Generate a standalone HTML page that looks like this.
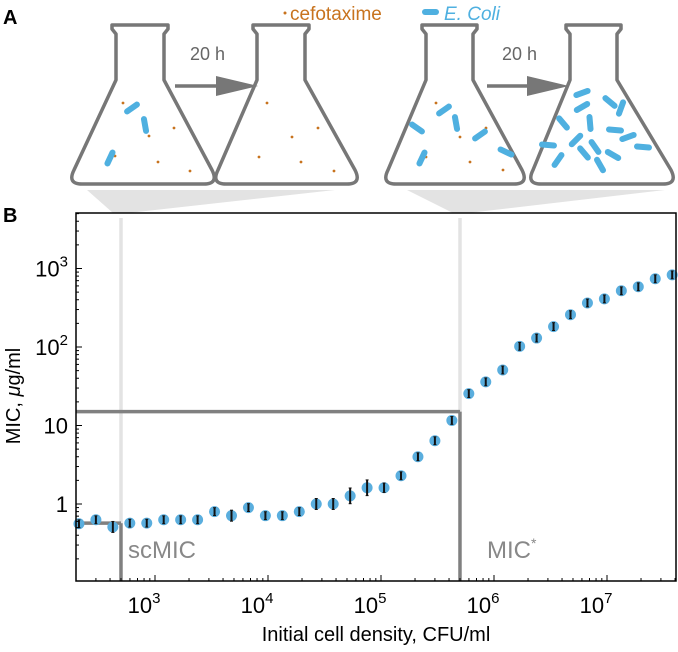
<!DOCTYPE html>
<html><head><meta charset="utf-8"><style>
body{margin:0;background:#fff}
svg text{font-family:"Liberation Sans",sans-serif}
</style></head><body>
<svg id="fig" width="678" height="647" viewBox="0 0 678 647" xmlns="http://www.w3.org/2000/svg">
<text x="3" y="24" font-size="20" font-weight="bold">A</text>
<text x="3" y="222" font-size="20" font-weight="bold">B</text>
<polygon points="87,190 335,190 128,213 113,213" fill="#e3e3e3"/>
<polygon points="407,190 665,190 468,213 453,213" fill="#e3e3e3"/>
<g id="flasks" fill="#fff" stroke="#777" stroke-width="3.5" stroke-linejoin="round"></g>
<g id="arrows"></g>
<g>
<circle cx="285" cy="13" r="1.5" fill="#c8731e"/>
<text x="290" y="20" font-size="19" fill="#c8731e">cefotaxime</text>
<line x1="425" y1="12" x2="436" y2="12" stroke="#4fb0e0" stroke-width="6" stroke-linecap="round"/>
<text x="444" y="20" font-size="19" font-style="italic" fill="#4fb0e0">E. Coli</text>
</g>
<g id="plot"></g>
</svg>
<script>
const logX = [2.327,2.477,2.627,2.777,2.927,3.077,3.227,3.377,3.527,3.677,3.827,3.977,4.127,4.277,4.427,4.577,4.727,4.877,5.027,5.177,5.327,5.477,5.627,5.777,5.927,6.077,6.227,6.377,6.527,6.677,6.827,6.977,7.127,7.277,7.427,7.577];
const micValues = [0.56,0.63,0.51,0.57,0.57,0.63,0.63,0.63,0.80,0.71,0.90,0.71,0.71,0.80,1.0,1.0,1.27,1.61,1.61,2.29,4.0,6.4,11.6,25.5,36,51,102,130,182,258,364,410,520,585,740,830];
const errLog = [0.05,0.05,0.07,0.05,0.05,0.05,0.05,0.05,0.05,0.07,0.05,0.05,0.05,0.05,0.07,0.07,0.1,0.1,0.06,0.05,0.05,0.05,0.05,0.05,0.05,0.05,0.05,0.05,0.05,0.05,0.05,0.05,0.05,0.05,0.05,0.05];
const xTickExp = [3,4,5,6,7];
const yTickVals = [1,10,100,1000];
const yTickBase = ["1","10","10","10"];
const yTickSup = ["","","2","3"];
const scMIC = {x:500, y:0.57};
const micStar = {x:5e5, y:15};

const NS="http://www.w3.org/2000/svg";
function mk(tag,attrs,parent){const e=document.createElementNS(NS,tag);for(const k in attrs)e.setAttribute(k,attrs[k]);parent.appendChild(e);return e;}
const L=76,R=676,T=213,B=581;
const X=lx=>155+(lx-3)*113;
const Y=v=>504-Math.log10(v)*78.5;
const plot=document.getElementById('plot');

const flasks=document.getElementById('flasks');
[[70,216,113,167],[214,359,254,308],[384,526,423,476],[529,675,567,620]].forEach((f,i)=>{
 const [x0,x1,n0,n1]=f;
 const d=`M${n0-1},25 L${n1+1},25 L${n1+1},29 L${n1-3},34 L${n1-3},80 L${x1-4},170 Q${x1+3},184 ${x1-12},184 L${x0+12},184 Q${x0-3},184 ${x0+4},170 L${n0+3},80 L${n0+3},34 L${n0-1},29 Z`;
 const p=mk('path',{d:d},flasks);
 
 
});
const dots=[[123,103],[174,128],[149,136],[115,156],[158,162],[190,171],[267,103],[318,128],[292,137],[259,157],[301,162],[334,171],[436,103],[486,128],[460,137],[426,157],[470,162],[503,170]];
dots.forEach(d=>{const c=mk('circle',{cx:d[0],cy:d[1],r:1.4,fill:'#c8731e'},flasks.parentNode);
 
 });
const bac=[[132,108,-35],[145,125,80],[110,158,-65],[444,110,-35],[456,123,80],[417,128,35],[480,135,-35],[506,152,25],[422,158,-65],
[582,93,-20],[610,102,40],[621,108,-70],[582,107,-30],[563,123,50],[590,123,85],[615,130,5],[576,140,-45],[595,147,55],[548,145,5],[628,137,-20],[643,147,5],[613,155,30],[584,153,50],[558,160,-55],[600,165,60]];
bac.forEach(b=>{const a=b[2]*Math.PI/180,dx=6*Math.cos(a),dy=6*Math.sin(a);
 const l=mk('line',{x1:b[0]-dx,y1:b[1]-dy,x2:b[0]+dx,y2:b[1]+dy,stroke:'#4fb0e0','stroke-width':6,'stroke-linecap':'round'},flasks.parentNode);
 
 });
const arrows=document.getElementById('arrows');
[[175,258,190],[487,569,502]].forEach((a,i)=>{
 const g=mk('g',{},arrows);
 
 
 mk('line',{x1:a[0],y1:86,x2:a[1]-38,y2:86,stroke:'#777','stroke-width':3.5},g);
 mk('polygon',{points:`${a[1]-42},76 ${a[1]},86 ${a[1]-42},96`,fill:'#777'},g);
 const t=mk('text',{x:a[2],y:60,'font-size':18,fill:'#666'},g);t.textContent='20 h';
});

function line(x1,y1,x2,y2,c,w,name){const l=mk('line',{x1,y1,x2,y2,stroke:c,'stroke-width':w},plot);
 
 }
const sx=X(Math.log10(scMIC.x)), sy=Y(scMIC.y), mx=X(Math.log10(micStar.x)), my=Y(micStar.y);
line(sx,T+5,sx,sy,'#e3e3e3',3.5,'scmic-guide');
line(mx,T+5,mx,my,'#e3e3e3',3.5,'mic-star-guide');
line(L,sy,sx,sy,'#808080',3.5,'scmic-horizontal');
line(sx,sy,sx,B,'#808080',3.5,'scmic-vertical');
line(L,my,mx,my,'#808080',3.5,'mic-star-horizontal');
line(mx,my,mx,B,'#808080',3.5,'mic-star-vertical');
let t=mk('text',{x:128,y:558,'font-size':24,fill:'#888'},plot);t.textContent='scMIC';


t=mk('text',{x:487,y:558,'font-size':24,fill:'#888'},plot);t.textContent='MIC';


const ts=mk('tspan',{'font-size':14,dy:-10},t);ts.textContent='*';

micValues.forEach((v,i)=>{
 const cx=X(logX[i]),cy=Y(v);
 if(cx>R+2)return;
 const g=mk('g',{},plot);
 
 
 mk('circle',{cx,cy,r:5.5,fill:'#5aaede'},g);
 const e=errLog[i]*78.5;
 mk('line',{x1:cx,y1:cy-e,x2:cx,y2:cy+e,stroke:'#111','stroke-width':2},g);
 mk('line',{x1:cx-1.5,y1:cy-e,x2:cx+1.5,y2:cy-e,stroke:'#111','stroke-width':1},g);
 mk('line',{x1:cx-1.5,y1:cy+e,x2:cx+1.5,y2:cy+e,stroke:'#111','stroke-width':1},g);
});

const fr=mk('rect',{x:L,y:T,width:R-L,height:B-T,fill:'none',stroke:'#000','stroke-width':1.5},plot);


for(let d=2;d<=7;d++)for(let m=1;m<10;m++){
 const lx=d+Math.log10(m);const x=X(lx);if(x<L||x>R)continue;
 line(x,B,x,B-(m===1?6:3),'#000',1,'x-tick');
}
xTickExp.forEach(e=>{const x=X(e);
 const tx=mk('text',{x:x-11,y:613,'font-size':22,'text-anchor':'middle'},plot);tx.textContent='10';
 const s=mk('tspan',{'font-size':15,dy:-10},tx);s.textContent=e;
 
 });
for(let d=-1;d<=3;d++)for(let m=1;m<10;m++){
 const v=Math.pow(10,d)*m;const y=Y(v);if(y<T||y>B)continue;
 line(L,y,L+(m===1?6:3),y,'#000',1,'y-tick');
}
yTickVals.forEach((v,i)=>{const y=Y(v);
 const tx=mk('text',{x:68,y:y+8,'font-size':22,'text-anchor':'end'},plot);
 tx.textContent=yTickBase[i];
 if(yTickSup[i]){const s=mk('tspan',{'font-size':15,dy:-10},tx);s.textContent=yTickSup[i];}
 
 });
t=mk('text',{x:376,y:641,'font-size':20,'text-anchor':'middle'},plot);t.textContent='Initial cell density, CFU/ml';


t=mk('text',{x:0,y:0,'font-size':20,'text-anchor':'middle',transform:'translate(20,396) rotate(-90)'},plot);


t.textContent='MIC, ';
const mu=mk('tspan',{'font-style':'italic'},t);mu.textContent='μ';
const rest=mk('tspan',{},t);rest.textContent='g/ml';
</script>
</body></html>
